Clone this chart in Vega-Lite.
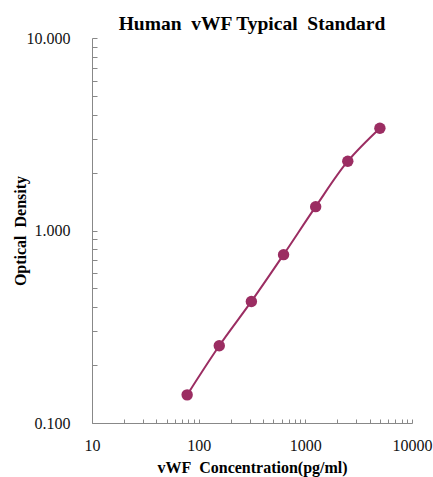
{
  "$schema": "https://vega.github.io/schema/vega-lite/v6.json",
  "autosize": "none",
  "width": 320,
  "height": 385,
  "padding": {"left": 92, "top": 38, "right": 21, "bottom": 54},
  "background": "white",
  "title": {
    "text": "Human\u00a0\u00a0vWF Typical\u00a0\u00a0Standard",
    "font": "Liberation Serif",
    "fontSize": 19.5,
    "fontWeight": "bold",
    "color": "#000000",
    "anchor": "middle",
    "offset": -4
  },
  "data": {
    "values": [
      {"conc": 78, "od": 0.140},
      {"conc": 156, "od": 0.252},
      {"conc": 312, "od": 0.428},
      {"conc": 625, "od": 0.749},
      {"conc": 1250, "od": 1.33},
      {"conc": 2500, "od": 2.29},
      {"conc": 5000, "od": 3.40}
    ]
  },
  "config": {
    "view": {"stroke": null},
    "axis": {
      "domainColor": "#888888",
      "tickColor": "#888888",
      "grid": false,
      "labelFont": "Liberation Serif",
      "labelFontSize": 16,
      "labelColor": "#111111",
      "labelFlush": false,
      "titleFont": "Liberation Serif",
      "titleFontSize": 16,
      "titleFontWeight": "bold",
      "titleColor": "#000000"
    }
  },
  "layer": [
    {
      "mark": {"type": "line", "color": "#9B2D62", "strokeWidth": 2, "interpolate": "catmull-rom"},
      "encoding": {
        "x": {
          "field": "conc", "type": "quantitative",
          "scale": {"type": "log", "domain": [10, 10000], "nice": false},
          "axis": {
            "title": "vWF\u00a0\u00a0Concentration(pg/ml)",
            "values": [10,20,30,40,50,60,70,80,90,100,200,300,400,500,600,700,800,900,1000,2000,3000,4000,5000,6000,7000,8000,9000,10000],
            "labelExpr": "datum.value == 10 || datum.value == 100 || datum.value == 1000 || datum.value == 10000 ? format(datum.value, 'd') : ''",
            "tickSize": -4,
            "labelPadding": 18,
            "labelOverlap": false,
            "titlePadding": 6
          }
        },
        "y": {
          "field": "od", "type": "quantitative",
          "scale": {"type": "log", "domain": [0.1, 10], "nice": false},
          "axis": {
            "title": "Optical\u00a0\u00a0Density",
            "values": [0.1,0.2,0.3,0.4,0.5,0.6,0.7,0.8,0.9,1,2,3,4,5,6,7,8,9,10],
            "labelExpr": "datum.value == 0.1 || datum.value == 1 || datum.value == 10 ? format(datum.value, '.3f') : ''",
            "tickSize": -5,
            "labelPadding": 27,
            "labelOverlap": false,
            "titlePadding": -2
          }
        }
      }
    },
    {
      "mark": {"type": "point", "filled": true, "color": "#9B2D62", "opacity": 1, "size": 130},
      "encoding": {
        "x": {"field": "conc", "type": "quantitative"},
        "y": {"field": "od", "type": "quantitative"}
      }
    }
  ]
}
